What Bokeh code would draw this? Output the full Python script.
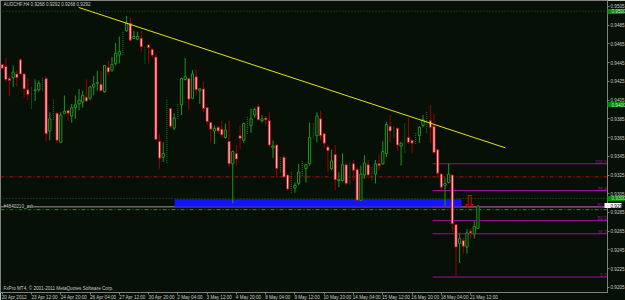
from bokeh.plotting import figure
from bokeh.models import Range1d, FixedTicker, PrintfTickFormatter, Label, ColumnDataSource, LinearAxis
from bokeh.core.properties import value
from bokeh.embed import file_html
from bokeh.resources import INLINE

# ---------------- data ----------------
opens = [0.9443, 0.9441, 0.9428, 0.9429, 0.9433, 0.9448, 0.9433, 0.9416, 0.9411, 0.9415,
         0.9416, 0.9416, 0.9428, 0.9372, 0.9385, 0.9391, 0.9360, 0.9391, 0.9394, 0.9388,
         0.9397, 0.9401, 0.9403, 0.9408, 0.9407, 0.9419, 0.9423, 0.9422, 0.9414, 0.9440,
         0.9437, 0.9444, 0.9453, 0.9457, 0.9479, 0.9487, 0.9471, 0.9470, 0.9471, 0.9462,
         0.9464, 0.9459, 0.9451, 0.9361, 0.9344, 0.9348, 0.9396, 0.9375, 0.9386, 0.9400,
         0.9427, 0.9428, 0.9407, 0.9430, 0.9415, 0.9417, 0.9397, 0.9381, 0.9372, 0.9376,
         0.9374, 0.9365, 0.9361, 0.9337, 0.9348, 0.9367, 0.9362, 0.9375, 0.9378, 0.9389,
         0.9398, 0.9383, 0.9386, 0.9383, 0.9354, 0.9357, 0.9332, 0.9344, 0.9325, 0.9310,
         0.9311, 0.9316, 0.9325, 0.9332, 0.9337, 0.9365, 0.9367, 0.9385, 0.9369, 0.9355,
         0.9332, 0.9347, 0.9319, 0.9319, 0.9336, 0.9316, 0.9337, 0.9331, 0.9298, 0.9325,
         0.9336, 0.9325, 0.9326, 0.9337, 0.9337, 0.9348, 0.9377, 0.9370, 0.9375, 0.9356,
         0.9359, 0.9365, 0.9362, 0.9359, 0.9367, 0.9378, 0.9384, 0.9383, 0.9377, 0.9352,
         0.9326, 0.9314, 0.9317, 0.9325, 0.9272, 0.9252, 0.9255, 0.9248, 0.9265, 0.9262,
         0.9268]
highs = [0.9444, 0.9450, 0.9430, 0.9442, 0.9437, 0.9450, 0.9434, 0.9428, 0.9419, 0.9427,
         0.9426, 0.9429, 0.9431, 0.9392, 0.9406, 0.9392, 0.9392, 0.9410, 0.9396, 0.9401,
         0.9410, 0.9417, 0.9415, 0.9427, 0.9420, 0.9431, 0.9436, 0.9436, 0.9442, 0.9447,
         0.9451, 0.9466, 0.9473, 0.9479, 0.9495, 0.9493, 0.9479, 0.9478, 0.9479, 0.9463,
         0.9465, 0.9461, 0.9455, 0.9369, 0.9360, 0.9405, 0.9397, 0.9391, 0.9401, 0.9429,
         0.9450, 0.9429, 0.9437, 0.9438, 0.9418, 0.9425, 0.9398, 0.9382, 0.9378, 0.9378,
         0.9383, 0.9380, 0.9383, 0.9351, 0.9357, 0.9378, 0.9381, 0.9387, 0.9396, 0.9397,
         0.9401, 0.9389, 0.9388, 0.9392, 0.9362, 0.9358, 0.9345, 0.9346, 0.9326, 0.9329,
         0.9317, 0.9337, 0.9341, 0.9337, 0.9381, 0.9381, 0.9392, 0.9394, 0.9370, 0.9357,
         0.9352, 0.9357, 0.9328, 0.9348, 0.9338, 0.9339, 0.9341, 0.9333, 0.9335, 0.9346,
         0.9341, 0.9334, 0.9341, 0.9347, 0.9361, 0.9382, 0.9389, 0.9377, 0.9376, 0.9360,
         0.9380, 0.9386, 0.9363, 0.9371, 0.9377, 0.9389, 0.9393, 0.9400, 0.9391, 0.9353,
         0.9327, 0.9322, 0.9337, 0.9326, 0.9273, 0.9262, 0.9258, 0.9267, 0.9268, 0.9276,
         0.9292]
lows = [0.9438, 0.9425, 0.9409, 0.9419, 0.9420, 0.9432, 0.9408, 0.9405, 0.9396, 0.9404,
        0.9414, 0.9415, 0.9361, 0.9362, 0.9384, 0.9359, 0.9359, 0.9390, 0.9383, 0.9381,
        0.9385, 0.9394, 0.9397, 0.9403, 0.9405, 0.9410, 0.9415, 0.9414, 0.9413, 0.9432,
        0.9435, 0.9442, 0.9444, 0.9453, 0.9478, 0.9468, 0.9470, 0.9469, 0.9457, 0.9444,
        0.9444, 0.9450, 0.9362, 0.9332, 0.9339, 0.9338, 0.9375, 0.9373, 0.9385, 0.9389,
        0.9426, 0.9395, 0.9406, 0.9410, 0.9401, 0.9392, 0.9378, 0.9360, 0.9358, 0.9369,
        0.9365, 0.9364, 0.9334, 0.9295, 0.9335, 0.9353, 0.9359, 0.9369, 0.9370, 0.9386,
        0.9383, 0.9381, 0.9378, 0.9355, 0.9343, 0.9322, 0.9328, 0.9321, 0.9308, 0.9306,
        0.9306, 0.9314, 0.9324, 0.9317, 0.9335, 0.9364, 0.9360, 0.9362, 0.9354, 0.9328,
        0.9330, 0.9309, 0.9312, 0.9318, 0.9314, 0.9315, 0.9319, 0.9296, 0.9297, 0.9321,
        0.9322, 0.9320, 0.9316, 0.9330, 0.9336, 0.9344, 0.9360, 0.9365, 0.9351, 0.9335,
        0.9349, 0.9358, 0.9348, 0.9358, 0.9359, 0.9376, 0.9370, 0.9359, 0.9348, 0.9322,
        0.9308, 0.9292, 0.9316, 0.9264, 0.9216, 0.9231, 0.9241, 0.9241, 0.9257, 0.9257,
        0.9268]
closes = [0.9439, 0.9427, 0.9426, 0.9435, 0.9429, 0.9433, 0.9417, 0.9411, 0.9417, 0.9416,
          0.9423, 0.9428, 0.9369, 0.9385, 0.9391, 0.9362, 0.9389, 0.9393, 0.9391, 0.9397,
          0.9400, 0.9405, 0.9410, 0.9404, 0.9419, 0.9422, 0.9424, 0.9415, 0.9442, 0.9435,
          0.9443, 0.9455, 0.9457, 0.9479, 0.9487, 0.9469, 0.9473, 0.9473, 0.9462, 0.9464,
          0.9461, 0.9453, 0.9363, 0.9343, 0.9348, 0.9397, 0.9377, 0.9386, 0.9400, 0.9428,
          0.9430, 0.9406, 0.9433, 0.9416, 0.9417, 0.9396, 0.9382, 0.9374, 0.9375, 0.9372,
          0.9368, 0.9373, 0.9337, 0.9350, 0.9342, 0.9364, 0.9380, 0.9385, 0.9385, 0.9395,
          0.9384, 0.9385, 0.9384, 0.9357, 0.9356, 0.9332, 0.9344, 0.9323, 0.9310, 0.9328,
          0.9314, 0.9328, 0.9330, 0.9336, 0.9365, 0.9380, 0.9388, 0.9367, 0.9359, 0.9351,
          0.9340, 0.9320, 0.9320, 0.9336, 0.9316, 0.9338, 0.9330, 0.9298, 0.9326, 0.9338,
          0.9325, 0.9333, 0.9337, 0.9335, 0.9350, 0.9379, 0.9372, 0.9376, 0.9357, 0.9359,
          0.9379, 0.9360, 0.9359, 0.9370, 0.9376, 0.9384, 0.9392, 0.9376, 0.9349, 0.9327,
          0.9312, 0.9316, 0.9326, 0.9273, 0.9248, 0.9257, 0.9249, 0.9263, 0.9263, 0.9270,
          0.9292]
dotted_bars = [8, 11, 14, 33, 39, 45, 48, 67, 76, 79, 82, 85, 95, 101, 107, 110, 113, 116]

time_tick_bars = [0, 8, 16, 24, 32, 40, 48, 56, 64, 72, 80, 88, 96, 104, 112, 120, 128]
time_tick_labels = ["20 Apr 2012", "23 Apr 12:00", "24 Apr 20:00", "26 Apr 04:00", "27 Apr 12:00",
                    "30 Apr 20:00", "2 May 04:00", "3 May 12:00", "4 May 20:00", "8 May 04:00",
                    "9 May 12:00", "10 May 20:00", "14 May 04:00", "15 May 12:00", "16 May 20:00",
                    "18 May 04:00", "21 May 12:00"]
price_ticks = [0.9505, 0.9485, 0.9465, 0.9445, 0.9425, 0.9405, 0.9385, 0.9365, 0.9345,
               0.9325, 0.9305, 0.9285, 0.9265, 0.9245, 0.9225, 0.9205]

trend_bars = [20.9, 137.5]
trend_prices = [0.9504, 0.9354]
zone_bars = [47.1, 125.5]
zone_prices = [0.9291, 0.9299]
fib_start_bar = 117.6
fib_high = 0.9337
fib_low = 0.9216
fib_levels = [100.0, 76.4, 61.8, 50.0, 38.2, 0.0]
red_level = 0.9323
green_level = 0.9288
ask_level = 0.9291
round_levels = [0.9500, 0.9300]
box_levels = [0.9500, 0.9400, 0.9300]
bid_price = 0.9292
arrow_bar = 127.7
arrow_price = 0.9308
symbol_text = "AUDCHF,H4  0.9268 0.9292 0.9268 0.9292"
footer_text = "FxPro MT4, \u00a9 2001-2011 MetaQuotes Software Corp."
ask_name = "#4840210_ask"

# ---------------- style ----------------
BG = "#061006"
GREEN = "#1E961E"
DOT_GREEN = "#1F7F1F"
PINK = "#FFB8C4"
RED = "#B40000"
GRAY = "#808080"
TXT = "#C8C8C8"
PURPLE = "#9A109A"
FONT = "Liberation Sans"
FS = "4.6px"

X_START, X_END = -0.46, 165.4
Y_LOW, Y_HIGH = 0.91995, 0.95114
FRAME_W, FRAME_H = 607, 292
PX_PER_BAR = FRAME_W / (X_END - X_START)
CHAR_W = 2.2  # approx px per character at FS

p = figure(frame_width=FRAME_W, frame_height=FRAME_H, output_backend="svg", toolbar_location=None,
           x_range=Range1d(X_START, X_END), y_range=Range1d(Y_LOW, Y_HIGH),
           x_axis_location="below", y_axis_location="right",
           min_border_left=0, min_border_top=0, min_border_right=18, min_border_bottom=8)
p.background_fill_color = BG
p.border_fill_color = BG
p.grid.visible = False
p.outline_line_color = GRAY

# price axis
yax = p.yaxis[0]
yax.ticker = FixedTicker(ticks=price_ticks)
yax.formatter = PrintfTickFormatter(format="%.4f")
yax.major_label_text_font_size = FS
yax.major_label_text_font = FONT
yax.major_label_text_color = TXT
yax.axis_line_color = GRAY
yax.major_tick_line_color = GRAY
yax.major_tick_out = 2
yax.major_tick_in = 0
yax.minor_tick_line_color = None
yax.major_label_standoff = 1

# price boxes drawn on the price scale (thick ticks reaching back over the scale + their labels)
def box_axis(levels, fill, text_color, reach_in, reach_out, standoff):
    return LinearAxis(ticker=FixedTicker(ticks=levels),
                      formatter=PrintfTickFormatter(format="%.4f"),
                      axis_line_color=None, minor_tick_line_color=None,
                      major_tick_in=reach_in, major_tick_out=reach_out,
                      major_tick_line_color=fill, major_tick_line_width=5,
                      major_tick_line_cap="butt",
                      major_label_standoff=standoff,
                      major_label_text_font_size=FS, major_label_text_font=FONT,
                      major_label_text_color=text_color)

p.add_layout(box_axis(box_levels, "#008A00", "#D8D8D8", 20, -3, -16), "right")
p.add_layout(box_axis([bid_price], "#FFFFFF", "#000000", 24, -7, -18), "right")

# time axis: tick marks at the bars (minor ticks), labels start at each tick (MT4 style)
xax = p.xaxis[0]
label_pos = [round(b + len(t) * CHAR_W / 2 / PX_PER_BAR, 3)
             for b, t in zip(time_tick_bars, time_tick_labels)]
xax.ticker = FixedTicker(ticks=label_pos, minor_ticks=time_tick_bars)
xax.major_label_overrides = {pos: t for pos, t in zip(label_pos, time_tick_labels)}
xax.major_label_text_font_size = FS
xax.major_label_text_font = FONT
xax.major_label_text_color = TXT
xax.major_label_standoff = 0
xax.axis_line_color = GRAY
xax.major_tick_line_color = None
xax.major_tick_out = 2
xax.major_tick_in = 0
xax.minor_tick_line_color = GRAY
xax.minor_tick_out = 2
xax.minor_tick_in = 0

# horizontal level lines
for lv in round_levels:
    p.segment(x0=[X_START], x1=[X_END], y0=[lv], y1=[lv], line_color="#2F5A2F",
              line_dash="1 2", line_width=1)
p.segment(x0=[X_START], x1=[X_END], y0=[red_level], y1=[red_level], line_color="#B01010",
          line_dash="4 2 1 2", line_width=1)
p.segment(x0=[X_START], x1=[X_END], y0=[green_level], y1=[green_level], line_color="#2E8B2E",
          line_dash="4 2 1 2", line_width=1)
p.segment(x0=[X_START], x1=[X_END], y0=[ask_level], y1=[ask_level], line_color="#6A6A6A",
          line_width=1.5)

# blue zone
p.quad(left=[zone_bars[0]], right=[zone_bars[1]], bottom=[zone_prices[0]], top=[zone_prices[1]],
       fill_color="#1414FF", line_color=None)

# fibonacci
fib_prices = [fib_low + (fib_high - fib_low) * lv / 100.0 for lv in fib_levels]
p.segment(x0=[fib_start_bar] * len(fib_prices), x1=[X_END] * len(fib_prices),
          y0=fib_prices, y1=fib_prices, line_color=PURPLE, line_width=1)
p.text(x=[X_END] * len(fib_prices), y=fib_prices, text=["%.1f" % v for v in fib_levels],
       text_align="right", text_baseline="bottom", x_offset=-1,
       text_font=value(FONT), text_font_size=FS, text_color=PURPLE)

# candles
bull = [i for i in range(len(opens)) if closes[i] >= opens[i] and i not in dotted_bars]
bear = [i for i in range(len(opens)) if closes[i] < opens[i] and i not in dotted_bars]

def sub(ids):
    return ColumnDataSource(dict(
        x=ids,
        h=[highs[i] for i in ids], l=[lows[i] for i in ids],
        top=[max(opens[i], closes[i]) for i in ids],
        bot=[min(opens[i], closes[i]) for i in ids]))

sb, sr, sd = sub(bull), sub(bear), sub(dotted_bars)
p.segment(x0="x", x1="x", y0="l", y1="h", source=sd, line_color=DOT_GREEN,
          line_dash="1 1", line_width=1)
p.segment(x0="x", x1="x", y0="l", y1="h", source=sb, line_color=GREEN, line_width=1)
p.segment(x0="x", x1="x", y0="l", y1="h", source=sr, line_color="#A00000", line_width=1)
p.vbar(x="x", width=0.62, top="top", bottom="bot", source=sb,
       fill_color=BG, line_color=GREEN, line_width=1)
p.vbar(x="x", width=0.62, top="top", bottom="bot", source=sr,
       fill_color=PINK, line_color=RED, line_width=0.8)

# trend line
p.line(x=trend_bars, y=trend_prices, line_color="#E6E600", line_width=1)

# arrow
p.text(x=[arrow_bar], y=[arrow_price], text=["\u21e9"], text_align="center", text_baseline="top",
       text_font=value("DejaVu Sans"), text_font_size="18px", text_color="#E00000")

# texts
p.add_layout(Label(x=X_START, y=Y_HIGH, x_offset=3, y_offset=-1, text=symbol_text,
                   text_baseline="top", text_font=FONT, text_font_size=FS, text_color=TXT))
p.add_layout(Label(x=X_START, y=Y_LOW, x_offset=3, y_offset=2, text=footer_text,
                   text_baseline="bottom", text_font=FONT, text_font_size=FS, text_color=TXT))
p.add_layout(Label(x=X_START, y=ask_level, x_offset=3, text=ask_name, text_baseline="middle",
                   text_font=FONT, text_font_size=FS, text_color=TXT, background_fill_color=BG))

open("out.html", "w").write(file_html(p, INLINE))
